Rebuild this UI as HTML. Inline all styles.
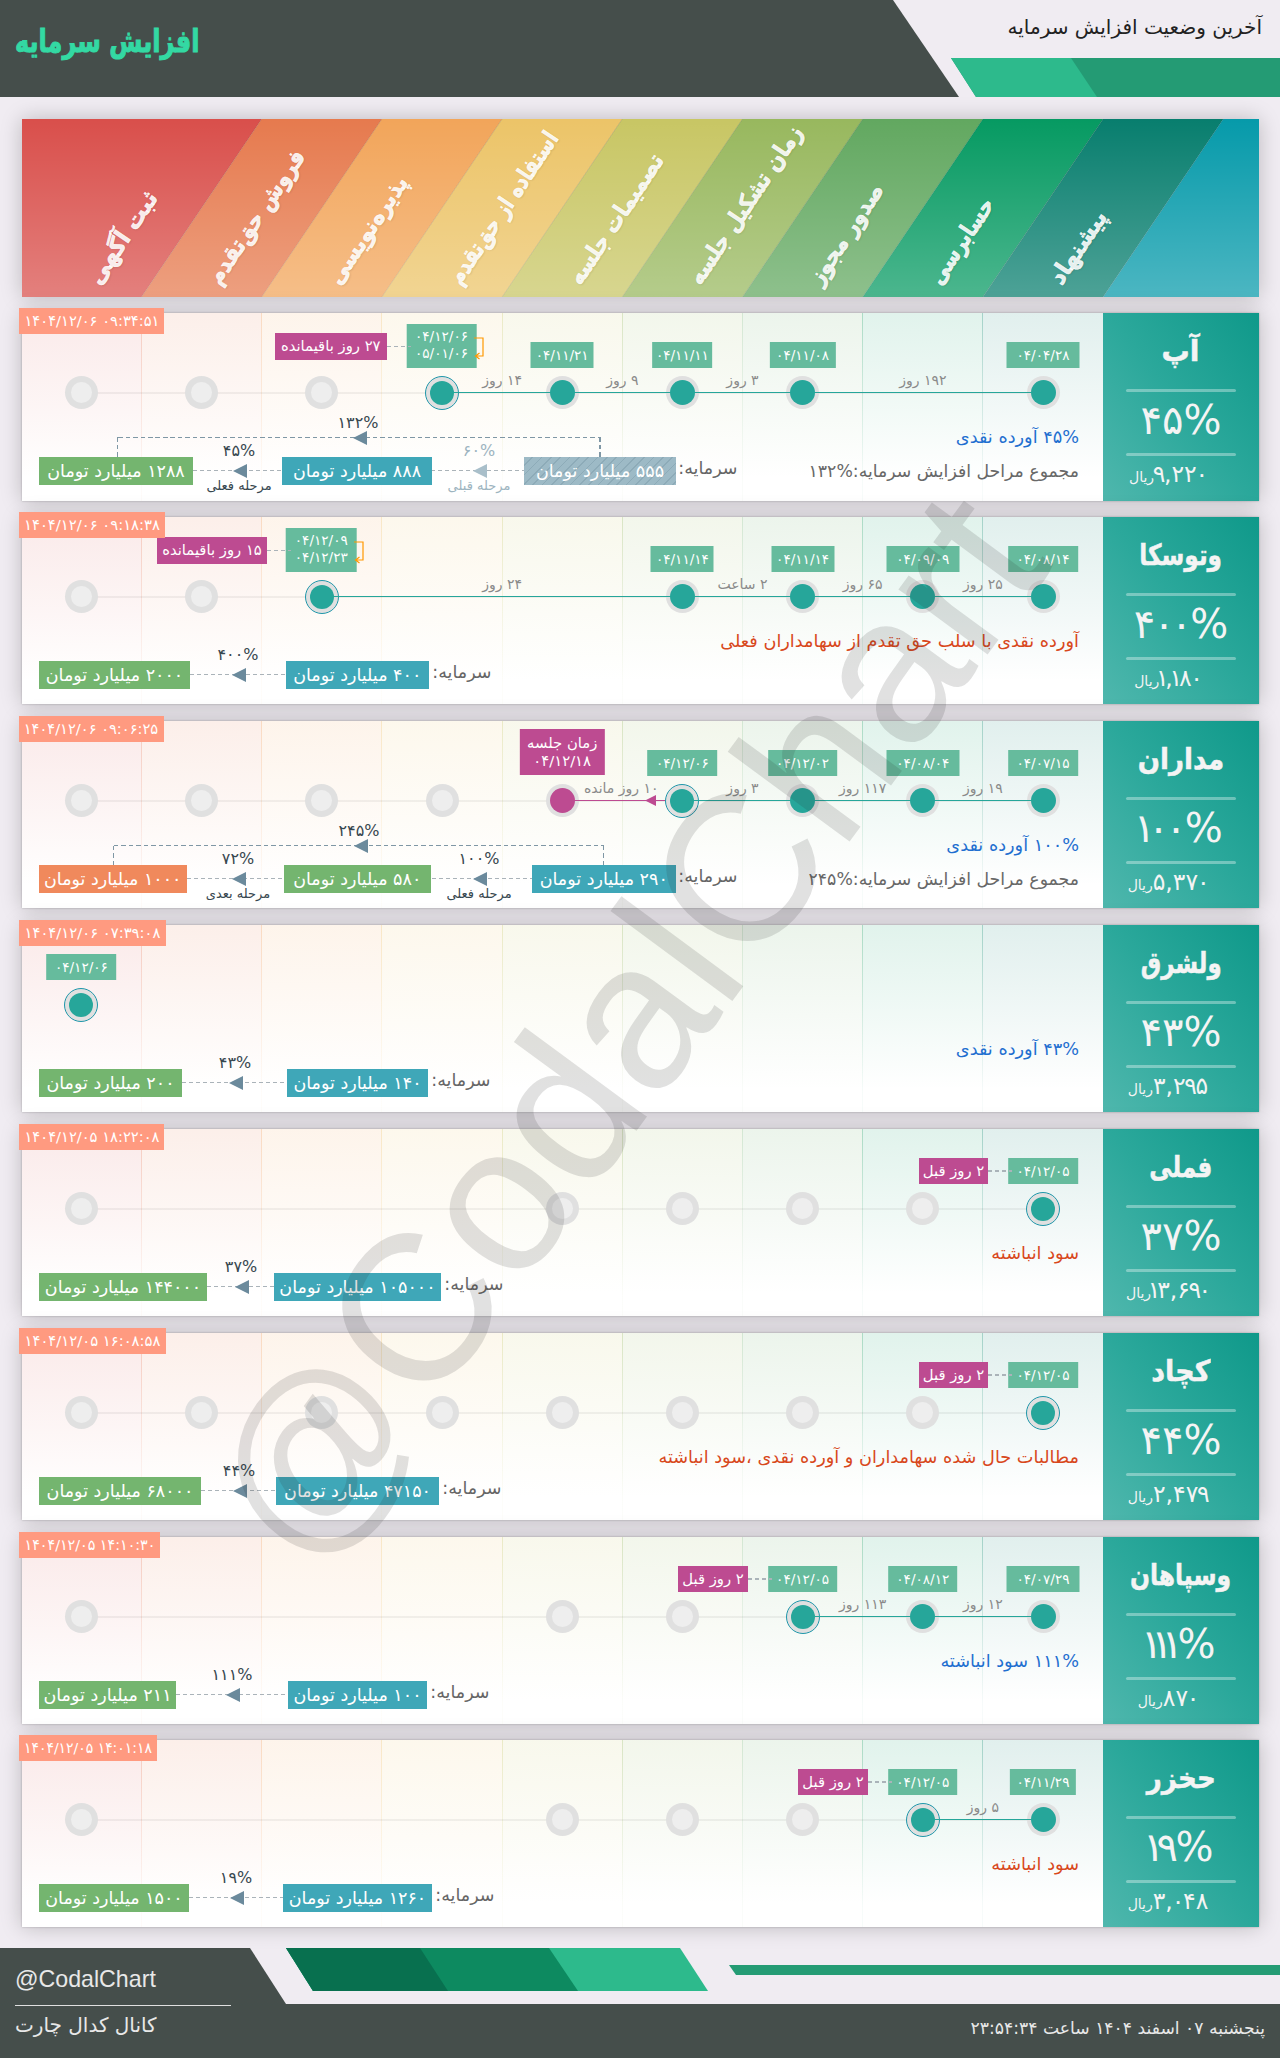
<!DOCTYPE html><html lang="fa" dir="rtl"><head><meta charset="utf-8"><title>افزایش سرمایه</title><style>
*{box-sizing:border-box;margin:0;padding:0}
html,body{width:1280px;height:2058px;overflow:hidden}
body{position:relative;background:#f0ecf2;font-family:"DejaVu Sans","Liberation Sans",sans-serif;direction:rtl;color:#555}
.abs{position:absolute}
svg{position:absolute;left:0;top:0;overflow:visible}
.title{position:absolute;left:15px;top:18px;height:50px;line-height:50px;font-size:24px;font-weight:bold;color:#33d9a3;white-space:nowrap;direction:rtl;transform-origin:0 60%;transform:scale(1,1.3);-webkit-text-stroke:.8px #33d9a3}
.sub{position:absolute;right:18px;top:12px;height:30px;line-height:30px;font-size:20px;color:#222;white-space:nowrap}
.hbox{position:absolute;left:22px;top:119px;width:1237px;height:178px;overflow:hidden;box-shadow:0 0 20px rgba(0,0,0,.22)}
.hl{position:absolute;color:rgba(255,255,255,.9);font-weight:bold;font-size:21px;white-space:nowrap;transform-origin:0 50%;line-height:30px;height:30px;text-shadow:0 1px 2px rgba(0,0,0,.12);-webkit-text-stroke:.6px rgba(255,255,255,.9);direction:rtl}
.row{position:absolute;left:22px;width:1237px;height:187.5px;background:#fff;box-shadow:0 0 20px rgba(0,0,0,.22),0 0 2px rgba(0,0,0,.25)}
.col{position:absolute;top:0;height:100%}
.cb{position:absolute;top:0;width:1px;height:100%}
.panel{position:absolute;left:1081px;top:0;width:156px;height:100%;background:linear-gradient(52deg,#4fb7ad 0%,#2ba89b 50%,#0f998a 100%);color:#f4f4f4;text-align:center}
.pn{position:absolute;left:0;width:100%;top:15px;height:46px;line-height:46px;font-size:29px;font-weight:bold;white-space:nowrap;-webkit-text-stroke:.5px #f4f4f4}
.ps{position:absolute;left:23px;width:110px;height:3px;border-radius:2px;background:rgba(255,255,255,.35)}
.pp{position:absolute;left:0;width:100%;top:83px;height:48px;line-height:48px;font-size:40px;white-space:nowrap;direction:rtl}
.pr{position:absolute;left:-13px;width:100%;top:147px;height:28px;line-height:28px;font-size:23.5px;white-space:nowrap;direction:rtl}
.pr small{font-size:14px}
.n1{margin:0 -.14em}.n0{margin:0 -.05em}.n9{margin:0 -.06em}
.sx{display:inline-block;transform-origin:50% 50%}
.ts{position:absolute;left:-3px;top:-5px;height:26px;line-height:26px;padding:0;text-align:center;background:#ff9a80;color:#fff;font-size:14.8px;white-space:nowrap;direction:ltr}
.ring{position:absolute;width:33px;height:33px;border-radius:50%;background:#e0e0e0;margin:-16.5px 0 0 -16.5px}
.in{position:absolute;width:21px;height:21px;border-radius:50%;background:#eee;margin:-10.5px 0 0 -10.5px}
.dot{position:absolute;width:25px;height:25px;border-radius:50%;background:#26a69a;margin:-12.5px 0 0 -12.5px}
.dotm{position:absolute;width:25px;height:25px;border-radius:50%;background:#bd4b91;margin:-12.5px 0 0 -12.5px}
.cur{position:absolute;width:34px;height:34px;border-radius:50%;border:1.8px solid #1f97aa;background:#e0e0e0;margin:-17px 0 0 -17px}
.ln{position:absolute;height:1.6px;background:#26a69a;margin-top:-.8px}
.lg{position:absolute;height:2px;background:rgba(0,0,0,.05);margin-top:-1px}
.lm{position:absolute;height:1.6px;background:#bd4b91;margin-top:-.8px}
.db{position:absolute;transform:translateX(-50%);background:#66bb9d;color:#fff;font-size:13.6px;padding:0;white-space:nowrap;text-align:center;direction:ltr}
.db1{top:29px;height:26px;line-height:26px}
.db2{top:11px;height:44px;line-height:17px;padding-top:4px}
.mg{position:absolute;background:#bd4b91;color:#fff;font-size:14.8px;padding:0 7px;white-space:nowrap;text-align:center;direction:rtl}
.iv{position:absolute;transform:translateX(-50%);top:57px;height:20px;line-height:20px;font-size:14px;color:#8a8a8a;white-space:nowrap;direction:rtl}
.dash{position:absolute;height:1.5px;margin-top:-.75px;background:repeating-linear-gradient(90deg,#aab3b9 0,#aab3b9 4px,transparent 4px,transparent 7px)}
.vd{position:absolute;width:1.3px;margin-left:-.65px;background:repeating-linear-gradient(0deg,#7f97a5 0,#7f97a5 4.5px,transparent 4.5px,transparent 7.5px)}
.t1{position:absolute;right:180px;top:112px;height:24px;line-height:24px;font-size:17.7px;white-space:nowrap;direction:rtl}
.t2{position:absolute;right:180px;top:146px;height:24px;line-height:24px;font-size:17.3px;white-space:nowrap;color:#686868;direction:rtl}
.blue{color:#1f6fd0}.red{color:#d8481c}
.cap{position:absolute;top:143.5px;height:28px;line-height:28px;color:#fff;font-size:17.5px;white-space:nowrap;text-align:center;direction:rtl}
.cl{position:absolute;top:141px;height:28px;line-height:28px;color:#666;font-size:17.5px;white-space:nowrap;direction:rtl}
.g{background:#74b56f}.t{background:#3fa7b8}.o{background:#f0895c}
.h{background:repeating-linear-gradient(135deg,#9dbac6 0,#9dbac6 5.6px,#8dabb8 5.6px,#8dabb8 6.6px)}
.pc{position:absolute;transform:translateX(-50%);height:20px;line-height:20px;font-size:16px;color:#37474f;white-space:nowrap;direction:rtl}
.sl{position:absolute;transform:translateX(-50%);height:18px;line-height:18px;font-size:13px;color:#37474f;white-space:nowrap;direction:rtl}
.lt{color:#9db4c0}
.wm{position:absolute;left:623px;top:1027px;width:0;height:0}
.wm>span{position:absolute;left:0;top:0;transform:translate(-50%,-50%) rotate(-53.6deg);font-family:"Liberation Sans",sans-serif;font-size:209px;line-height:1;color:rgba(40,40,40,.14);white-space:nowrap;direction:ltr}
.f1{position:absolute;left:15px;top:1964px;height:30px;line-height:30px;font-size:23.2px;color:#e8e8e8;font-family:"Liberation Sans",sans-serif;direction:ltr;white-space:nowrap}
.f2{position:absolute;left:15px;top:2011px;height:28px;line-height:28px;font-size:20px;color:#e8e8e8;white-space:nowrap;direction:rtl}
.f3{position:absolute;right:15px;top:2014px;height:28px;line-height:28px;font-size:17.2px;color:#e8e8e8;white-space:nowrap;direction:rtl}
.fl{position:absolute;left:15px;top:2005px;width:216px;height:1px;background:#e0e0e0}
</style></head><body>
<svg width="1280" height="2058" viewBox="0 0 1280 2058"><polygon points="0,0 893,0 959,97 0,97" fill="#454e4b"/><polygon points="951,58 1280,58 1280,97 976,97" fill="#249b74"/><polygon points="951,58 1071,58 1097,97 976,97" fill="#2dba8c"/><rect x="0" y="2004" width="1280" height="54" fill="#454e4b"/><polygon points="0,1948 250,1948 286,2004 0,2004" fill="#454e4b"/><polygon points="286,1948 680,1948 708,1991 313,1991" fill="#2dba8c"/><polygon points="286,1948 549,1948 578,1991 313,1991" fill="#0d8a60"/><polygon points="286,1948 420,1948 448,1991 313,1991" fill="#08704f"/><polygon points="729,1965 1280,1965 1280,1975 736,1975" fill="#249b74"/></svg>
<div class="title">افزایش سرمایه</div>
<div class="sub">آخرین وضعیت افزایش سرمایه</div>
<div class="hbox"><svg width="1237" height="178" viewBox="0 0 1237 178"><defs><linearGradient id="wg" x1="0" y1="0" x2="0" y2="1"><stop offset="0" stop-color="#fff" stop-opacity="0"/><stop offset="1" stop-color="#fff" stop-opacity=".28"/></linearGradient></defs><polygon points="0,0 239.7,0 119.5,178.0 0,178.0" fill="#d94f4b"/><polygon points="239.7,0 359.9,0 239.7,178.0 119.5,178.0" fill="#e67a4e"/><polygon points="359.9,0 480.1,0 359.9,178.0 239.7,178.0" fill="#f2a55a"/><polygon points="480.1,0 600.3,0 480.1,178.0 359.9,178.0" fill="#ecc468"/><polygon points="600.3,0 720.5,0 600.3,178.0 480.1,178.0" fill="#c8c664"/><polygon points="720.5,0 840.7,0 720.5,178.0 600.3,178.0" fill="#98b85e"/><polygon points="840.7,0 960.9,0 840.7,178.0 720.5,178.0" fill="#62a860"/><polygon points="960.9,0 1081.1,0 960.9,178.0 840.7,178.0" fill="#069a62"/><polygon points="1081.1,0 1201.3,0 1081.1,178.0 960.9,178.0" fill="#087e6e"/><polygon points="1201.3,0 1237.0,0 1237.0,178.0 1081.1,178.0" fill="#069aaa"/><line x1="239.7" y1="0" x2="119.5" y2="178.0" stroke="rgba(0,0,0,.12)" stroke-width="1"/><line x1="359.9" y1="0" x2="239.7" y2="178.0" stroke="rgba(0,0,0,.12)" stroke-width="1"/><line x1="480.1" y1="0" x2="359.9" y2="178.0" stroke="rgba(0,0,0,.12)" stroke-width="1"/><line x1="600.3" y1="0" x2="480.1" y2="178.0" stroke="rgba(0,0,0,.12)" stroke-width="1"/><line x1="720.5" y1="0" x2="600.3" y2="178.0" stroke="rgba(0,0,0,.12)" stroke-width="1"/><line x1="840.7" y1="0" x2="720.5" y2="178.0" stroke="rgba(0,0,0,.12)" stroke-width="1"/><line x1="960.9" y1="0" x2="840.7" y2="178.0" stroke="rgba(0,0,0,.12)" stroke-width="1"/><line x1="1081.1" y1="0" x2="960.9" y2="178.0" stroke="rgba(0,0,0,.12)" stroke-width="1"/><line x1="1201.3" y1="0" x2="1081.1" y2="178.0" stroke="rgba(0,0,0,.12)" stroke-width="1"/><rect x="0" y="0" width="1237.0" height="178.0" fill="url(#wg)"/></svg><div class="hl" style="left:71.0px;top:148.0px;transform:rotate(-56.3deg) scale(1.06,1.12)">ثبت آگهی</div><div class="hl" style="left:191.2px;top:148.0px;transform:rotate(-56.3deg) scale(0.97,1.12)">فروش حق‌تقدم</div><div class="hl" style="left:311.4px;top:148.0px;transform:rotate(-56.3deg) scale(1.0,1.12)">پذیره‌نویسی</div><div class="hl" style="left:431.6px;top:148.0px;transform:rotate(-56.3deg) scale(0.885,1.12)">استفاده از حق‌تقدم</div><div class="hl" style="left:551.8px;top:148.0px;transform:rotate(-56.3deg) scale(0.95,1.12)">تصمیمات جلسه</div><div class="hl" style="left:672.0px;top:148.0px;transform:rotate(-56.3deg) scale(0.965,1.12)">زمان تشکیل جلسه</div><div class="hl" style="left:792.2px;top:148.0px;transform:rotate(-56.3deg) scale(0.98,1.12)">صدور مجوز</div><div class="hl" style="left:912.4px;top:148.0px;transform:rotate(-56.3deg) scale(0.92,1.12)">حسابرسی</div><div class="hl" style="left:1032.6px;top:148.0px;transform:rotate(-56.3deg) scale(1.06,1.12)">پیشنهاد</div></div>
<div class="row" style="top:313px;height:188px"><div class="col" style="left:0.0px;width:119.5px;background:linear-gradient(to bottom,rgba(217,79,75,.12) 0%,rgba(217,79,75,.055) 50%,rgba(217,79,75,0) 88%)"></div><div class="col" style="left:119.5px;width:120.2px;background:linear-gradient(to bottom,rgba(230,122,78,.12) 0%,rgba(230,122,78,.055) 50%,rgba(230,122,78,0) 88%)"></div><div class="col" style="left:239.7px;width:120.2px;background:linear-gradient(to bottom,rgba(242,165,90,.12) 0%,rgba(242,165,90,.055) 50%,rgba(242,165,90,0) 88%)"></div><div class="col" style="left:359.9px;width:120.2px;background:linear-gradient(to bottom,rgba(236,196,104,.12) 0%,rgba(236,196,104,.055) 50%,rgba(236,196,104,0) 88%)"></div><div class="col" style="left:480.1px;width:120.2px;background:linear-gradient(to bottom,rgba(200,198,100,.12) 0%,rgba(200,198,100,.055) 50%,rgba(200,198,100,0) 88%)"></div><div class="col" style="left:600.3px;width:120.2px;background:linear-gradient(to bottom,rgba(152,184,94,.12) 0%,rgba(152,184,94,.055) 50%,rgba(152,184,94,0) 88%)"></div><div class="col" style="left:720.5px;width:120.2px;background:linear-gradient(to bottom,rgba(98,168,96,.12) 0%,rgba(98,168,96,.055) 50%,rgba(98,168,96,0) 88%)"></div><div class="col" style="left:840.7px;width:120.2px;background:linear-gradient(to bottom,rgba(6,154,98,.12) 0%,rgba(6,154,98,.055) 50%,rgba(6,154,98,0) 88%)"></div><div class="col" style="left:960.9px;width:120.2px;background:linear-gradient(to bottom,rgba(8,126,110,.12) 0%,rgba(8,126,110,.055) 50%,rgba(8,126,110,0) 88%)"></div><div class="cb" style="left:119.0px;background:linear-gradient(to bottom,rgba(230,122,78,.28) 0%,rgba(230,122,78,.03) 90%)"></div><div class="cb" style="left:239.2px;background:linear-gradient(to bottom,rgba(242,165,90,.28) 0%,rgba(242,165,90,.03) 90%)"></div><div class="cb" style="left:359.4px;background:linear-gradient(to bottom,rgba(236,196,104,.28) 0%,rgba(236,196,104,.03) 90%)"></div><div class="cb" style="left:479.6px;background:linear-gradient(to bottom,rgba(200,198,100,.28) 0%,rgba(200,198,100,.03) 90%)"></div><div class="cb" style="left:599.8px;background:linear-gradient(to bottom,rgba(152,184,94,.28) 0%,rgba(152,184,94,.03) 90%)"></div><div class="cb" style="left:720.0px;background:linear-gradient(to bottom,rgba(98,168,96,.28) 0%,rgba(98,168,96,.03) 90%)"></div><div class="cb" style="left:840.2px;background:linear-gradient(to bottom,rgba(6,154,98,.28) 0%,rgba(6,154,98,.03) 90%)"></div><div class="cb" style="left:960.4px;background:linear-gradient(to bottom,rgba(8,126,110,.28) 0%,rgba(8,126,110,.03) 90%)"></div><div class="cb" style="left:1080.6px;background:linear-gradient(to bottom,rgba(8,126,110,.28) 0%,rgba(8,126,110,.03) 90%)"></div><div class="lg" style="left:59.4px;width:961.6px;top:79.5px"></div><div class="ring" style="left:299.8px;top:79.5px"></div><div class="in" style="left:299.8px;top:79.5px"></div><div class="ring" style="left:179.6px;top:79.5px"></div><div class="in" style="left:179.6px;top:79.5px"></div><div class="ring" style="left:59.4px;top:79.5px"></div><div class="in" style="left:59.4px;top:79.5px"></div><div class="ring" style="left:1021.0px;top:79.5px"></div><div class="ring" style="left:780.6px;top:79.5px"></div><div class="ring" style="left:660.4px;top:79.5px"></div><div class="ring" style="left:540.2px;top:79.5px"></div><div class="cur" style="left:420.0px;top:79.5px"></div><div class="ln" style="left:420.0px;width:601.0px;top:79.5px"></div><div class="dot" style="left:1021.0px;top:79.5px"></div><div class="db db1" style="left:1021.0px;width:73.0px">۰۴/۰۴/۲۸</div><div class="dot" style="left:780.6px;top:79.5px"></div><div class="db db1" style="left:780.6px;width:66.3px">۰۴/۱۱/۰۸</div><div class="dot" style="left:660.4px;top:79.5px"></div><div class="db db1" style="left:660.4px;width:59.7px">۰۴/۱۱/۱۱</div><div class="dot" style="left:540.2px;top:79.5px"></div><div class="db db1" style="left:540.2px;width:63.0px">۰۴/۱۱/۲۱</div><div class="dot" style="left:420.0px;top:79.5px;width:24px;height:24px;margin:-12px 0 0 -12px"></div><div class="db db2" style="left:419.5px;width:70.6px">۰۴/۱۲/۰۶<br>۰۵/۰۱/۰۶</div><svg class="abs" style="left:451.0px;top:18.5px" width="14" height="28" viewBox="0 0 14 28"><path d="M1,6 H10 V24 H3 M6.5,21 L2.5,24 L6.5,27" fill="none" stroke="#ff9800" stroke-width="1.2"/></svg><div class="iv" style="left:900.8px">۱۹۲ روز</div><div class="iv" style="left:720.5px">۳ روز</div><div class="iv" style="left:600.3px">۹ روز</div><div class="iv" style="left:480.1px">۱۴ روز</div><div class="mg" style="left:253.0px;width:111.5px;top:20.2px;height:26.4px;line-height:26.4px;padding:0">۲۷ روز باقیمانده</div><div class="dash" style="left:364.5px;width:24px;top:33.4px"></div><div class="t1 blue">۴۵% آورده نقدی</div><div class="t2">مجموع مراحل افزایش سرمایه:%۱۳۲</div><div class="dash" style="left:171.0px;width:331.0px;top:157.5px"></div><div class="dash" style="left:95.5px;width:482.5px;top:124.8px;height:1.3px;background:repeating-linear-gradient(90deg,#7f97a5 0,#7f97a5 4.5px,transparent 4.5px,transparent 7.5px)"></div><div class="vd" style="left:95.5px;top:124px;height:19.5px"></div><div class="vd" style="left:578.0px;top:124px;height:19.5px"></div><svg class="abs" style="left:331.0px;top:117.7px" width="14" height="14" viewBox="0 0 14 14"><polygon points="0,7 14,0 14,14" fill="#6b8a9c"/></svg><div class="pc" style="left:336.0px;top:100px">۱۳۲%</div><div class="cap g" style="left:17.0px;width:154.0px">۱۲۸۸ میلیارد تومان</div><div class="cap t" style="left:260.0px;width:150.0px">۸۸۸ میلیارد تومان</div><div class="cap h" style="left:502.0px;width:152.0px">۵۵۵ میلیارد تومان</div><svg class="abs" style="left:211.0px;top:150.5px" width="14" height="14" viewBox="0 0 14 14"><polygon points="0,7 14,0 14,14" fill="#6b8a9c"/></svg><div class="pc" style="left:217.0px;top:128px">۴۵%</div><div class="sl" style="left:217.0px;top:164px">مرحله فعلی</div><svg class="abs" style="left:451.0px;top:150.5px" width="14" height="14" viewBox="0 0 14 14"><polygon points="0,7 14,0 14,14" fill="#a9bfca"/></svg><div class="pc lt" style="left:457.0px;top:128px">۶۰%</div><div class="sl lt" style="left:457.0px;top:164px">مرحله قبلی</div><div class="cl" style="right:521.5px">سرمایه:</div><div class="ts" style="width:145px"><span class="sx" style="transform:scaleX(0.993)">۱۴۰۴/۱۲/۰۶ ۰۹:۳۴:۵۱</span></div><div class="panel"><div class="pn"><span class="sx" style="transform:scaleX(0.97)">آپ</span></div><div class="ps" style="top:76px"></div><div class="pp">۴۵%</div><div class="ps" style="top:140px"></div><div class="pr"><span class="n9">۹</span>,۲۲<span class="n0">۰</span><small>ریال</small></div></div></div>
<div class="row" style="top:517px;height:187px"><div class="col" style="left:0.0px;width:119.5px;background:linear-gradient(to bottom,rgba(217,79,75,.12) 0%,rgba(217,79,75,.055) 50%,rgba(217,79,75,0) 88%)"></div><div class="col" style="left:119.5px;width:120.2px;background:linear-gradient(to bottom,rgba(230,122,78,.12) 0%,rgba(230,122,78,.055) 50%,rgba(230,122,78,0) 88%)"></div><div class="col" style="left:239.7px;width:120.2px;background:linear-gradient(to bottom,rgba(242,165,90,.12) 0%,rgba(242,165,90,.055) 50%,rgba(242,165,90,0) 88%)"></div><div class="col" style="left:359.9px;width:120.2px;background:linear-gradient(to bottom,rgba(236,196,104,.12) 0%,rgba(236,196,104,.055) 50%,rgba(236,196,104,0) 88%)"></div><div class="col" style="left:480.1px;width:120.2px;background:linear-gradient(to bottom,rgba(200,198,100,.12) 0%,rgba(200,198,100,.055) 50%,rgba(200,198,100,0) 88%)"></div><div class="col" style="left:600.3px;width:120.2px;background:linear-gradient(to bottom,rgba(152,184,94,.12) 0%,rgba(152,184,94,.055) 50%,rgba(152,184,94,0) 88%)"></div><div class="col" style="left:720.5px;width:120.2px;background:linear-gradient(to bottom,rgba(98,168,96,.12) 0%,rgba(98,168,96,.055) 50%,rgba(98,168,96,0) 88%)"></div><div class="col" style="left:840.7px;width:120.2px;background:linear-gradient(to bottom,rgba(6,154,98,.12) 0%,rgba(6,154,98,.055) 50%,rgba(6,154,98,0) 88%)"></div><div class="col" style="left:960.9px;width:120.2px;background:linear-gradient(to bottom,rgba(8,126,110,.12) 0%,rgba(8,126,110,.055) 50%,rgba(8,126,110,0) 88%)"></div><div class="cb" style="left:119.0px;background:linear-gradient(to bottom,rgba(230,122,78,.28) 0%,rgba(230,122,78,.03) 90%)"></div><div class="cb" style="left:239.2px;background:linear-gradient(to bottom,rgba(242,165,90,.28) 0%,rgba(242,165,90,.03) 90%)"></div><div class="cb" style="left:359.4px;background:linear-gradient(to bottom,rgba(236,196,104,.28) 0%,rgba(236,196,104,.03) 90%)"></div><div class="cb" style="left:479.6px;background:linear-gradient(to bottom,rgba(200,198,100,.28) 0%,rgba(200,198,100,.03) 90%)"></div><div class="cb" style="left:599.8px;background:linear-gradient(to bottom,rgba(152,184,94,.28) 0%,rgba(152,184,94,.03) 90%)"></div><div class="cb" style="left:720.0px;background:linear-gradient(to bottom,rgba(98,168,96,.28) 0%,rgba(98,168,96,.03) 90%)"></div><div class="cb" style="left:840.2px;background:linear-gradient(to bottom,rgba(6,154,98,.28) 0%,rgba(6,154,98,.03) 90%)"></div><div class="cb" style="left:960.4px;background:linear-gradient(to bottom,rgba(8,126,110,.28) 0%,rgba(8,126,110,.03) 90%)"></div><div class="cb" style="left:1080.6px;background:linear-gradient(to bottom,rgba(8,126,110,.28) 0%,rgba(8,126,110,.03) 90%)"></div><div class="lg" style="left:59.4px;width:961.6px;top:79.5px"></div><div class="ring" style="left:179.6px;top:79.5px"></div><div class="in" style="left:179.6px;top:79.5px"></div><div class="ring" style="left:59.4px;top:79.5px"></div><div class="in" style="left:59.4px;top:79.5px"></div><div class="ring" style="left:1021.0px;top:79.5px"></div><div class="ring" style="left:900.8px;top:79.5px"></div><div class="ring" style="left:780.6px;top:79.5px"></div><div class="ring" style="left:660.4px;top:79.5px"></div><div class="cur" style="left:299.8px;top:79.5px"></div><div class="ln" style="left:299.8px;width:721.2px;top:79.5px"></div><div class="dot" style="left:1021.0px;top:79.5px"></div><div class="db db1" style="left:1021.0px;width:69.6px">۰۴/۰۸/۱۴</div><div class="dot" style="left:900.8px;top:79.5px"></div><div class="db db1" style="left:900.8px;width:73.0px">۰۴/۰۹/۰۹</div><div class="dot" style="left:780.6px;top:79.5px"></div><div class="db db1" style="left:780.6px;width:63.0px">۰۴/۱۱/۱۴</div><div class="dot" style="left:660.4px;top:79.5px"></div><div class="db db1" style="left:660.4px;width:63.0px">۰۴/۱۱/۱۴</div><div class="dot" style="left:299.8px;top:79.5px;width:24px;height:24px;margin:-12px 0 0 -12px"></div><div class="db db2" style="left:299.3px;width:70.6px">۰۴/۱۲/۰۹<br>۰۴/۱۲/۲۳</div><svg class="abs" style="left:330.8px;top:18.5px" width="14" height="28" viewBox="0 0 14 28"><path d="M1,6 H10 V24 H3 M6.5,21 L2.5,24 L6.5,27" fill="none" stroke="#ff9800" stroke-width="1.2"/></svg><div class="iv" style="left:960.9px">۲۵ روز</div><div class="iv" style="left:840.7px">۶۵ روز</div><div class="iv" style="left:720.5px">۲ ساعت</div><div class="iv" style="left:480.1px">۲۴ روز</div><div class="mg" style="left:135.0px;width:110.0px;top:20.2px;height:26.4px;line-height:26.4px;padding:0">۱۵ روز باقیمانده</div><div class="dash" style="left:245.0px;width:24px;top:33.4px"></div><div class="t1 red">آورده نقدی با سلب حق تقدم از سهامداران فعلی</div><div class="dash" style="left:168.0px;width:96.0px;top:157.5px"></div><div class="cap g" style="left:17.0px;width:151.0px">۲۰۰۰ میلیارد تومان</div><div class="cap t" style="left:264.0px;width:142.5px">۴۰۰ میلیارد تومان</div><svg class="abs" style="left:210.0px;top:150.5px" width="14" height="14" viewBox="0 0 14 14"><polygon points="0,7 14,0 14,14" fill="#6b8a9c"/></svg><div class="pc" style="left:216.0px;top:128px">۴۰۰%</div><div class="cl" style="right:767.5px">سرمایه:</div><div class="ts" style="width:146px"><span class="sx" style="transform:scaleX(1.000)">۱۴۰۴/۱۲/۰۶ ۰۹:۱۸:۳۸</span></div><div class="panel"><div class="pn"><span class="sx" style="transform:scaleX(0.8)">وتوسکا</span></div><div class="ps" style="top:76px"></div><div class="pp">۴<span class="n0">۰</span><span class="n0">۰</span>%</div><div class="ps" style="top:140px"></div><div class="pr"><span class="n1">۱</span>,<span class="n1">۱</span>۸<span class="n0">۰</span><small>ریال</small></div></div></div>
<div class="row" style="top:721px;height:187px"><div class="col" style="left:0.0px;width:119.5px;background:linear-gradient(to bottom,rgba(217,79,75,.12) 0%,rgba(217,79,75,.055) 50%,rgba(217,79,75,0) 88%)"></div><div class="col" style="left:119.5px;width:120.2px;background:linear-gradient(to bottom,rgba(230,122,78,.12) 0%,rgba(230,122,78,.055) 50%,rgba(230,122,78,0) 88%)"></div><div class="col" style="left:239.7px;width:120.2px;background:linear-gradient(to bottom,rgba(242,165,90,.12) 0%,rgba(242,165,90,.055) 50%,rgba(242,165,90,0) 88%)"></div><div class="col" style="left:359.9px;width:120.2px;background:linear-gradient(to bottom,rgba(236,196,104,.12) 0%,rgba(236,196,104,.055) 50%,rgba(236,196,104,0) 88%)"></div><div class="col" style="left:480.1px;width:120.2px;background:linear-gradient(to bottom,rgba(200,198,100,.12) 0%,rgba(200,198,100,.055) 50%,rgba(200,198,100,0) 88%)"></div><div class="col" style="left:600.3px;width:120.2px;background:linear-gradient(to bottom,rgba(152,184,94,.12) 0%,rgba(152,184,94,.055) 50%,rgba(152,184,94,0) 88%)"></div><div class="col" style="left:720.5px;width:120.2px;background:linear-gradient(to bottom,rgba(98,168,96,.12) 0%,rgba(98,168,96,.055) 50%,rgba(98,168,96,0) 88%)"></div><div class="col" style="left:840.7px;width:120.2px;background:linear-gradient(to bottom,rgba(6,154,98,.12) 0%,rgba(6,154,98,.055) 50%,rgba(6,154,98,0) 88%)"></div><div class="col" style="left:960.9px;width:120.2px;background:linear-gradient(to bottom,rgba(8,126,110,.12) 0%,rgba(8,126,110,.055) 50%,rgba(8,126,110,0) 88%)"></div><div class="cb" style="left:119.0px;background:linear-gradient(to bottom,rgba(230,122,78,.28) 0%,rgba(230,122,78,.03) 90%)"></div><div class="cb" style="left:239.2px;background:linear-gradient(to bottom,rgba(242,165,90,.28) 0%,rgba(242,165,90,.03) 90%)"></div><div class="cb" style="left:359.4px;background:linear-gradient(to bottom,rgba(236,196,104,.28) 0%,rgba(236,196,104,.03) 90%)"></div><div class="cb" style="left:479.6px;background:linear-gradient(to bottom,rgba(200,198,100,.28) 0%,rgba(200,198,100,.03) 90%)"></div><div class="cb" style="left:599.8px;background:linear-gradient(to bottom,rgba(152,184,94,.28) 0%,rgba(152,184,94,.03) 90%)"></div><div class="cb" style="left:720.0px;background:linear-gradient(to bottom,rgba(98,168,96,.28) 0%,rgba(98,168,96,.03) 90%)"></div><div class="cb" style="left:840.2px;background:linear-gradient(to bottom,rgba(6,154,98,.28) 0%,rgba(6,154,98,.03) 90%)"></div><div class="cb" style="left:960.4px;background:linear-gradient(to bottom,rgba(8,126,110,.28) 0%,rgba(8,126,110,.03) 90%)"></div><div class="cb" style="left:1080.6px;background:linear-gradient(to bottom,rgba(8,126,110,.28) 0%,rgba(8,126,110,.03) 90%)"></div><div class="lg" style="left:59.4px;width:961.6px;top:79.5px"></div><div class="ring" style="left:420.0px;top:79.5px"></div><div class="in" style="left:420.0px;top:79.5px"></div><div class="ring" style="left:299.8px;top:79.5px"></div><div class="in" style="left:299.8px;top:79.5px"></div><div class="ring" style="left:179.6px;top:79.5px"></div><div class="in" style="left:179.6px;top:79.5px"></div><div class="ring" style="left:59.4px;top:79.5px"></div><div class="in" style="left:59.4px;top:79.5px"></div><div class="ring" style="left:1021.0px;top:79.5px"></div><div class="ring" style="left:900.8px;top:79.5px"></div><div class="ring" style="left:780.6px;top:79.5px"></div><div class="cur" style="left:660.4px;top:79.5px"></div><div class="ring" style="left:540.2px;top:79.5px"></div><div class="ln" style="left:660.4px;width:360.6px;top:79.5px"></div><div class="lm" style="left:540.2px;width:103.2px;top:79.5px"></div><svg class="abs" style="left:623.4px;top:74.0px" width="11" height="11" viewBox="0 0 14 14"><polygon points="0,7 14,0 14,14" fill="#bd4b91"/></svg><div class="dotm" style="left:540.2px;top:79.5px"></div><div class="mg" style="left:540.2px;transform:translateX(-50%);top:8px;height:46px;line-height:18px;padding-top:5px">زمان جلسه<br><span dir="ltr">۰۴/۱۲/۱۸</span></div><div class="iv" style="left:599.3px">۱۰ روز مانده</div><div class="dot" style="left:1021.0px;top:79.5px"></div><div class="db db1" style="left:1021.0px;width:69.6px">۰۴/۰۷/۱۵</div><div class="dot" style="left:900.8px;top:79.5px"></div><div class="db db1" style="left:900.8px;width:73.0px">۰۴/۰۸/۰۴</div><div class="dot" style="left:780.6px;top:79.5px"></div><div class="db db1" style="left:780.6px;width:69.6px">۰۴/۱۲/۰۲</div><div class="dot" style="left:660.4px;top:79.5px;width:24px;height:24px;margin:-12px 0 0 -12px"></div><div class="db db1" style="left:660.4px;width:69.6px">۰۴/۱۲/۰۶</div><div class="iv" style="left:960.9px">۱۹ روز</div><div class="iv" style="left:840.7px">۱۱۷ روز</div><div class="iv" style="left:720.5px">۳ روز</div><div class="t1 blue">۱۰۰% آورده نقدی</div><div class="t2">مجموع مراحل افزایش سرمایه:%۲۴۵</div><div class="dash" style="left:164.5px;width:345.0px;top:157.5px"></div><div class="dash" style="left:91.5px;width:490.0px;top:124.8px;height:1.3px;background:repeating-linear-gradient(90deg,#7f97a5 0,#7f97a5 4.5px,transparent 4.5px,transparent 7.5px)"></div><div class="vd" style="left:91.5px;top:124px;height:19.5px"></div><div class="vd" style="left:581.5px;top:124px;height:19.5px"></div><svg class="abs" style="left:332.0px;top:117.7px" width="14" height="14" viewBox="0 0 14 14"><polygon points="0,7 14,0 14,14" fill="#6b8a9c"/></svg><div class="pc" style="left:337.0px;top:100px">۲۴۵%</div><div class="cap o" style="left:17.0px;width:147.5px">۱۰۰۰ میلیارد تومان</div><div class="cap g" style="left:261.5px;width:147.5px">۵۸۰ میلیارد تومان</div><div class="cap t" style="left:509.5px;width:144.5px">۲۹۰ میلیارد تومان</div><svg class="abs" style="left:210.0px;top:150.5px" width="14" height="14" viewBox="0 0 14 14"><polygon points="0,7 14,0 14,14" fill="#6b8a9c"/></svg><div class="pc" style="left:216.0px;top:128px">۷۲%</div><div class="sl" style="left:216.0px;top:164px">مرحله بعدی</div><svg class="abs" style="left:451.0px;top:150.5px" width="14" height="14" viewBox="0 0 14 14"><polygon points="0,7 14,0 14,14" fill="#6b8a9c"/></svg><div class="pc" style="left:457.0px;top:128px">۱۰۰%</div><div class="sl" style="left:457.0px;top:164px">مرحله فعلی</div><div class="cl" style="right:521.5px">سرمایه:</div><div class="ts" style="width:144.5px"><span class="sx" style="transform:scaleX(0.989)">۱۴۰۴/۱۲/۰۶ ۰۹:۰۶:۲۵</span></div><div class="panel"><div class="pn"><span class="sx" style="transform:scaleX(0.9)">مداران</span></div><div class="ps" style="top:76px"></div><div class="pp"><span class="n1">۱</span><span class="n0">۰</span><span class="n0">۰</span>%</div><div class="ps" style="top:140px"></div><div class="pr">۵,۳۷<span class="n0">۰</span><small>ریال</small></div></div></div>
<div class="row" style="top:925px;height:187px"><div class="col" style="left:0.0px;width:119.5px;background:linear-gradient(to bottom,rgba(217,79,75,.12) 0%,rgba(217,79,75,.055) 50%,rgba(217,79,75,0) 88%)"></div><div class="col" style="left:119.5px;width:120.2px;background:linear-gradient(to bottom,rgba(230,122,78,.12) 0%,rgba(230,122,78,.055) 50%,rgba(230,122,78,0) 88%)"></div><div class="col" style="left:239.7px;width:120.2px;background:linear-gradient(to bottom,rgba(242,165,90,.12) 0%,rgba(242,165,90,.055) 50%,rgba(242,165,90,0) 88%)"></div><div class="col" style="left:359.9px;width:120.2px;background:linear-gradient(to bottom,rgba(236,196,104,.12) 0%,rgba(236,196,104,.055) 50%,rgba(236,196,104,0) 88%)"></div><div class="col" style="left:480.1px;width:120.2px;background:linear-gradient(to bottom,rgba(200,198,100,.12) 0%,rgba(200,198,100,.055) 50%,rgba(200,198,100,0) 88%)"></div><div class="col" style="left:600.3px;width:120.2px;background:linear-gradient(to bottom,rgba(152,184,94,.12) 0%,rgba(152,184,94,.055) 50%,rgba(152,184,94,0) 88%)"></div><div class="col" style="left:720.5px;width:120.2px;background:linear-gradient(to bottom,rgba(98,168,96,.12) 0%,rgba(98,168,96,.055) 50%,rgba(98,168,96,0) 88%)"></div><div class="col" style="left:840.7px;width:120.2px;background:linear-gradient(to bottom,rgba(6,154,98,.12) 0%,rgba(6,154,98,.055) 50%,rgba(6,154,98,0) 88%)"></div><div class="col" style="left:960.9px;width:120.2px;background:linear-gradient(to bottom,rgba(8,126,110,.12) 0%,rgba(8,126,110,.055) 50%,rgba(8,126,110,0) 88%)"></div><div class="cb" style="left:119.0px;background:linear-gradient(to bottom,rgba(230,122,78,.28) 0%,rgba(230,122,78,.03) 90%)"></div><div class="cb" style="left:239.2px;background:linear-gradient(to bottom,rgba(242,165,90,.28) 0%,rgba(242,165,90,.03) 90%)"></div><div class="cb" style="left:359.4px;background:linear-gradient(to bottom,rgba(236,196,104,.28) 0%,rgba(236,196,104,.03) 90%)"></div><div class="cb" style="left:479.6px;background:linear-gradient(to bottom,rgba(200,198,100,.28) 0%,rgba(200,198,100,.03) 90%)"></div><div class="cb" style="left:599.8px;background:linear-gradient(to bottom,rgba(152,184,94,.28) 0%,rgba(152,184,94,.03) 90%)"></div><div class="cb" style="left:720.0px;background:linear-gradient(to bottom,rgba(98,168,96,.28) 0%,rgba(98,168,96,.03) 90%)"></div><div class="cb" style="left:840.2px;background:linear-gradient(to bottom,rgba(6,154,98,.28) 0%,rgba(6,154,98,.03) 90%)"></div><div class="cb" style="left:960.4px;background:linear-gradient(to bottom,rgba(8,126,110,.28) 0%,rgba(8,126,110,.03) 90%)"></div><div class="cb" style="left:1080.6px;background:linear-gradient(to bottom,rgba(8,126,110,.28) 0%,rgba(8,126,110,.03) 90%)"></div><div class="cur" style="left:59.4px;top:79.5px"></div><div class="dot" style="left:59.4px;top:79.5px;width:24px;height:24px;margin:-12px 0 0 -12px"></div><div class="db db1" style="left:59.4px;width:69.6px">۰۴/۱۲/۰۶</div><div class="t1 blue">۴۳% آورده نقدی</div><div class="dash" style="left:160.0px;width:105.0px;top:157.5px"></div><div class="cap g" style="left:17.0px;width:143.0px">۲۰۰ میلیارد تومان</div><div class="cap t" style="left:265.0px;width:141.0px">۱۴۰ میلیارد تومان</div><svg class="abs" style="left:207.0px;top:150.5px" width="14" height="14" viewBox="0 0 14 14"><polygon points="0,7 14,0 14,14" fill="#6b8a9c"/></svg><div class="pc" style="left:213.0px;top:128px">۴۳%</div><div class="cl" style="right:768.5px">سرمایه:</div><div class="ts" style="width:147px"><span class="sx" style="transform:scaleX(1.000)">۱۴۰۴/۱۲/۰۶ ۰۷:۳۹:۰۸</span></div><div class="panel"><div class="pn"><span class="sx" style="transform:scaleX(0.79)">ولشرق</span></div><div class="ps" style="top:76px"></div><div class="pp">۴۳%</div><div class="ps" style="top:140px"></div><div class="pr">۳,۲<span class="n9">۹</span>۵<small>ریال</small></div></div></div>
<div class="row" style="top:1129px;height:187px"><div class="col" style="left:0.0px;width:119.5px;background:linear-gradient(to bottom,rgba(217,79,75,.12) 0%,rgba(217,79,75,.055) 50%,rgba(217,79,75,0) 88%)"></div><div class="col" style="left:119.5px;width:120.2px;background:linear-gradient(to bottom,rgba(230,122,78,.12) 0%,rgba(230,122,78,.055) 50%,rgba(230,122,78,0) 88%)"></div><div class="col" style="left:239.7px;width:120.2px;background:linear-gradient(to bottom,rgba(242,165,90,.12) 0%,rgba(242,165,90,.055) 50%,rgba(242,165,90,0) 88%)"></div><div class="col" style="left:359.9px;width:120.2px;background:linear-gradient(to bottom,rgba(236,196,104,.12) 0%,rgba(236,196,104,.055) 50%,rgba(236,196,104,0) 88%)"></div><div class="col" style="left:480.1px;width:120.2px;background:linear-gradient(to bottom,rgba(200,198,100,.12) 0%,rgba(200,198,100,.055) 50%,rgba(200,198,100,0) 88%)"></div><div class="col" style="left:600.3px;width:120.2px;background:linear-gradient(to bottom,rgba(152,184,94,.12) 0%,rgba(152,184,94,.055) 50%,rgba(152,184,94,0) 88%)"></div><div class="col" style="left:720.5px;width:120.2px;background:linear-gradient(to bottom,rgba(98,168,96,.12) 0%,rgba(98,168,96,.055) 50%,rgba(98,168,96,0) 88%)"></div><div class="col" style="left:840.7px;width:120.2px;background:linear-gradient(to bottom,rgba(6,154,98,.12) 0%,rgba(6,154,98,.055) 50%,rgba(6,154,98,0) 88%)"></div><div class="col" style="left:960.9px;width:120.2px;background:linear-gradient(to bottom,rgba(8,126,110,.12) 0%,rgba(8,126,110,.055) 50%,rgba(8,126,110,0) 88%)"></div><div class="cb" style="left:119.0px;background:linear-gradient(to bottom,rgba(230,122,78,.28) 0%,rgba(230,122,78,.03) 90%)"></div><div class="cb" style="left:239.2px;background:linear-gradient(to bottom,rgba(242,165,90,.28) 0%,rgba(242,165,90,.03) 90%)"></div><div class="cb" style="left:359.4px;background:linear-gradient(to bottom,rgba(236,196,104,.28) 0%,rgba(236,196,104,.03) 90%)"></div><div class="cb" style="left:479.6px;background:linear-gradient(to bottom,rgba(200,198,100,.28) 0%,rgba(200,198,100,.03) 90%)"></div><div class="cb" style="left:599.8px;background:linear-gradient(to bottom,rgba(152,184,94,.28) 0%,rgba(152,184,94,.03) 90%)"></div><div class="cb" style="left:720.0px;background:linear-gradient(to bottom,rgba(98,168,96,.28) 0%,rgba(98,168,96,.03) 90%)"></div><div class="cb" style="left:840.2px;background:linear-gradient(to bottom,rgba(6,154,98,.28) 0%,rgba(6,154,98,.03) 90%)"></div><div class="cb" style="left:960.4px;background:linear-gradient(to bottom,rgba(8,126,110,.28) 0%,rgba(8,126,110,.03) 90%)"></div><div class="cb" style="left:1080.6px;background:linear-gradient(to bottom,rgba(8,126,110,.28) 0%,rgba(8,126,110,.03) 90%)"></div><div class="lg" style="left:59.4px;width:961.6px;top:79.5px"></div><div class="ring" style="left:900.8px;top:79.5px"></div><div class="in" style="left:900.8px;top:79.5px"></div><div class="ring" style="left:780.6px;top:79.5px"></div><div class="in" style="left:780.6px;top:79.5px"></div><div class="ring" style="left:660.4px;top:79.5px"></div><div class="in" style="left:660.4px;top:79.5px"></div><div class="ring" style="left:540.2px;top:79.5px"></div><div class="in" style="left:540.2px;top:79.5px"></div><div class="ring" style="left:59.4px;top:79.5px"></div><div class="in" style="left:59.4px;top:79.5px"></div><div class="cur" style="left:1021.0px;top:79.5px"></div><div class="dot" style="left:1021.0px;top:79.5px;width:24px;height:24px;margin:-12px 0 0 -12px"></div><div class="db db1" style="left:1021.0px;width:69.6px">۰۴/۱۲/۰۵</div><div class="mg" style="left:897.0px;width:69.0px;top:28.8px;height:26px;line-height:26px;padding:0">۲ روز قبل</div><div class="dash" style="left:966.0px;width:24px;top:41.8px"></div><div class="t1 red">سود انباشته</div><div class="dash" style="left:185.0px;width:67.0px;top:157.5px"></div><div class="cap g" style="left:17.0px;width:168.0px">۱۴۴۰۰۰ میلیارد تومان</div><div class="cap t" style="left:252.0px;width:167.0px">۱۰۵۰۰۰ میلیارد تومان</div><svg class="abs" style="left:213.0px;top:150.5px" width="14" height="14" viewBox="0 0 14 14"><polygon points="0,7 14,0 14,14" fill="#6b8a9c"/></svg><div class="pc" style="left:219.0px;top:128px">۳۷%</div><div class="cl" style="right:755.5px">سرمایه:</div><div class="ts" style="width:145px"><span class="sx" style="transform:scaleX(0.993)">۱۴۰۴/۱۲/۰۵ ۱۸:۲۲:۰۸</span></div><div class="panel"><div class="pn"><span class="sx" style="transform:scaleX(0.79)">فملی</span></div><div class="ps" style="top:76px"></div><div class="pp">۳۷%</div><div class="ps" style="top:140px"></div><div class="pr"><span class="n1">۱</span>۳,۶<span class="n9">۹</span><span class="n0">۰</span><small>ریال</small></div></div></div>
<div class="row" style="top:1333px;height:187px"><div class="col" style="left:0.0px;width:119.5px;background:linear-gradient(to bottom,rgba(217,79,75,.12) 0%,rgba(217,79,75,.055) 50%,rgba(217,79,75,0) 88%)"></div><div class="col" style="left:119.5px;width:120.2px;background:linear-gradient(to bottom,rgba(230,122,78,.12) 0%,rgba(230,122,78,.055) 50%,rgba(230,122,78,0) 88%)"></div><div class="col" style="left:239.7px;width:120.2px;background:linear-gradient(to bottom,rgba(242,165,90,.12) 0%,rgba(242,165,90,.055) 50%,rgba(242,165,90,0) 88%)"></div><div class="col" style="left:359.9px;width:120.2px;background:linear-gradient(to bottom,rgba(236,196,104,.12) 0%,rgba(236,196,104,.055) 50%,rgba(236,196,104,0) 88%)"></div><div class="col" style="left:480.1px;width:120.2px;background:linear-gradient(to bottom,rgba(200,198,100,.12) 0%,rgba(200,198,100,.055) 50%,rgba(200,198,100,0) 88%)"></div><div class="col" style="left:600.3px;width:120.2px;background:linear-gradient(to bottom,rgba(152,184,94,.12) 0%,rgba(152,184,94,.055) 50%,rgba(152,184,94,0) 88%)"></div><div class="col" style="left:720.5px;width:120.2px;background:linear-gradient(to bottom,rgba(98,168,96,.12) 0%,rgba(98,168,96,.055) 50%,rgba(98,168,96,0) 88%)"></div><div class="col" style="left:840.7px;width:120.2px;background:linear-gradient(to bottom,rgba(6,154,98,.12) 0%,rgba(6,154,98,.055) 50%,rgba(6,154,98,0) 88%)"></div><div class="col" style="left:960.9px;width:120.2px;background:linear-gradient(to bottom,rgba(8,126,110,.12) 0%,rgba(8,126,110,.055) 50%,rgba(8,126,110,0) 88%)"></div><div class="cb" style="left:119.0px;background:linear-gradient(to bottom,rgba(230,122,78,.28) 0%,rgba(230,122,78,.03) 90%)"></div><div class="cb" style="left:239.2px;background:linear-gradient(to bottom,rgba(242,165,90,.28) 0%,rgba(242,165,90,.03) 90%)"></div><div class="cb" style="left:359.4px;background:linear-gradient(to bottom,rgba(236,196,104,.28) 0%,rgba(236,196,104,.03) 90%)"></div><div class="cb" style="left:479.6px;background:linear-gradient(to bottom,rgba(200,198,100,.28) 0%,rgba(200,198,100,.03) 90%)"></div><div class="cb" style="left:599.8px;background:linear-gradient(to bottom,rgba(152,184,94,.28) 0%,rgba(152,184,94,.03) 90%)"></div><div class="cb" style="left:720.0px;background:linear-gradient(to bottom,rgba(98,168,96,.28) 0%,rgba(98,168,96,.03) 90%)"></div><div class="cb" style="left:840.2px;background:linear-gradient(to bottom,rgba(6,154,98,.28) 0%,rgba(6,154,98,.03) 90%)"></div><div class="cb" style="left:960.4px;background:linear-gradient(to bottom,rgba(8,126,110,.28) 0%,rgba(8,126,110,.03) 90%)"></div><div class="cb" style="left:1080.6px;background:linear-gradient(to bottom,rgba(8,126,110,.28) 0%,rgba(8,126,110,.03) 90%)"></div><div class="lg" style="left:59.4px;width:961.6px;top:79.5px"></div><div class="ring" style="left:900.8px;top:79.5px"></div><div class="in" style="left:900.8px;top:79.5px"></div><div class="ring" style="left:780.6px;top:79.5px"></div><div class="in" style="left:780.6px;top:79.5px"></div><div class="ring" style="left:660.4px;top:79.5px"></div><div class="in" style="left:660.4px;top:79.5px"></div><div class="ring" style="left:540.2px;top:79.5px"></div><div class="in" style="left:540.2px;top:79.5px"></div><div class="ring" style="left:420.0px;top:79.5px"></div><div class="in" style="left:420.0px;top:79.5px"></div><div class="ring" style="left:299.8px;top:79.5px"></div><div class="in" style="left:299.8px;top:79.5px"></div><div class="ring" style="left:179.6px;top:79.5px"></div><div class="in" style="left:179.6px;top:79.5px"></div><div class="ring" style="left:59.4px;top:79.5px"></div><div class="in" style="left:59.4px;top:79.5px"></div><div class="cur" style="left:1021.0px;top:79.5px"></div><div class="dot" style="left:1021.0px;top:79.5px;width:24px;height:24px;margin:-12px 0 0 -12px"></div><div class="db db1" style="left:1021.0px;width:69.6px">۰۴/۱۲/۰۵</div><div class="mg" style="left:897.0px;width:69.0px;top:28.8px;height:26px;line-height:26px;padding:0">۲ روز قبل</div><div class="dash" style="left:966.0px;width:24px;top:41.8px"></div><div class="t1 red">مطالبات حال شده سهامداران و آورده نقدی ،سود انباشته</div><div class="dash" style="left:179.0px;width:75.0px;top:157.5px"></div><div class="cap g" style="left:17.0px;width:162.0px">۶۸۰۰۰ میلیارد تومان</div><div class="cap t" style="left:254.0px;width:163.0px">۴۷۱۵۰ میلیارد تومان</div><svg class="abs" style="left:211.0px;top:150.5px" width="14" height="14" viewBox="0 0 14 14"><polygon points="0,7 14,0 14,14" fill="#6b8a9c"/></svg><div class="pc" style="left:217.0px;top:128px">۴۴%</div><div class="cl" style="right:757.5px">سرمایه:</div><div class="ts" style="width:147px"><span class="sx" style="transform:scaleX(1.000)">۱۴۰۴/۱۲/۰۵ ۱۶:۰۸:۵۸</span></div><div class="panel"><div class="pn"><span class="sx" style="transform:scaleX(0.93)">کچاد</span></div><div class="ps" style="top:76px"></div><div class="pp">۴۴%</div><div class="ps" style="top:140px"></div><div class="pr">۲,۴۷<span class="n9">۹</span><small>ریال</small></div></div></div>
<div class="row" style="top:1537px;height:187px"><div class="col" style="left:0.0px;width:119.5px;background:linear-gradient(to bottom,rgba(217,79,75,.12) 0%,rgba(217,79,75,.055) 50%,rgba(217,79,75,0) 88%)"></div><div class="col" style="left:119.5px;width:120.2px;background:linear-gradient(to bottom,rgba(230,122,78,.12) 0%,rgba(230,122,78,.055) 50%,rgba(230,122,78,0) 88%)"></div><div class="col" style="left:239.7px;width:120.2px;background:linear-gradient(to bottom,rgba(242,165,90,.12) 0%,rgba(242,165,90,.055) 50%,rgba(242,165,90,0) 88%)"></div><div class="col" style="left:359.9px;width:120.2px;background:linear-gradient(to bottom,rgba(236,196,104,.12) 0%,rgba(236,196,104,.055) 50%,rgba(236,196,104,0) 88%)"></div><div class="col" style="left:480.1px;width:120.2px;background:linear-gradient(to bottom,rgba(200,198,100,.12) 0%,rgba(200,198,100,.055) 50%,rgba(200,198,100,0) 88%)"></div><div class="col" style="left:600.3px;width:120.2px;background:linear-gradient(to bottom,rgba(152,184,94,.12) 0%,rgba(152,184,94,.055) 50%,rgba(152,184,94,0) 88%)"></div><div class="col" style="left:720.5px;width:120.2px;background:linear-gradient(to bottom,rgba(98,168,96,.12) 0%,rgba(98,168,96,.055) 50%,rgba(98,168,96,0) 88%)"></div><div class="col" style="left:840.7px;width:120.2px;background:linear-gradient(to bottom,rgba(6,154,98,.12) 0%,rgba(6,154,98,.055) 50%,rgba(6,154,98,0) 88%)"></div><div class="col" style="left:960.9px;width:120.2px;background:linear-gradient(to bottom,rgba(8,126,110,.12) 0%,rgba(8,126,110,.055) 50%,rgba(8,126,110,0) 88%)"></div><div class="cb" style="left:119.0px;background:linear-gradient(to bottom,rgba(230,122,78,.28) 0%,rgba(230,122,78,.03) 90%)"></div><div class="cb" style="left:239.2px;background:linear-gradient(to bottom,rgba(242,165,90,.28) 0%,rgba(242,165,90,.03) 90%)"></div><div class="cb" style="left:359.4px;background:linear-gradient(to bottom,rgba(236,196,104,.28) 0%,rgba(236,196,104,.03) 90%)"></div><div class="cb" style="left:479.6px;background:linear-gradient(to bottom,rgba(200,198,100,.28) 0%,rgba(200,198,100,.03) 90%)"></div><div class="cb" style="left:599.8px;background:linear-gradient(to bottom,rgba(152,184,94,.28) 0%,rgba(152,184,94,.03) 90%)"></div><div class="cb" style="left:720.0px;background:linear-gradient(to bottom,rgba(98,168,96,.28) 0%,rgba(98,168,96,.03) 90%)"></div><div class="cb" style="left:840.2px;background:linear-gradient(to bottom,rgba(6,154,98,.28) 0%,rgba(6,154,98,.03) 90%)"></div><div class="cb" style="left:960.4px;background:linear-gradient(to bottom,rgba(8,126,110,.28) 0%,rgba(8,126,110,.03) 90%)"></div><div class="cb" style="left:1080.6px;background:linear-gradient(to bottom,rgba(8,126,110,.28) 0%,rgba(8,126,110,.03) 90%)"></div><div class="lg" style="left:59.4px;width:961.6px;top:79.5px"></div><div class="ring" style="left:660.4px;top:79.5px"></div><div class="in" style="left:660.4px;top:79.5px"></div><div class="ring" style="left:540.2px;top:79.5px"></div><div class="in" style="left:540.2px;top:79.5px"></div><div class="ring" style="left:59.4px;top:79.5px"></div><div class="in" style="left:59.4px;top:79.5px"></div><div class="ring" style="left:1021.0px;top:79.5px"></div><div class="ring" style="left:900.8px;top:79.5px"></div><div class="cur" style="left:780.6px;top:79.5px"></div><div class="ln" style="left:780.6px;width:240.4px;top:79.5px"></div><div class="dot" style="left:1021.0px;top:79.5px"></div><div class="db db1" style="left:1021.0px;width:73.0px">۰۴/۰۷/۲۹</div><div class="dot" style="left:900.8px;top:79.5px"></div><div class="db db1" style="left:900.8px;width:69.6px">۰۴/۰۸/۱۲</div><div class="dot" style="left:780.6px;top:79.5px;width:24px;height:24px;margin:-12px 0 0 -12px"></div><div class="db db1" style="left:780.6px;width:69.6px">۰۴/۱۲/۰۵</div><div class="iv" style="left:960.9px">۱۲ روز</div><div class="iv" style="left:840.7px">۱۱۳ روز</div><div class="mg" style="left:656.0px;width:70.0px;top:28.8px;height:26px;line-height:26px;padding:0">۲ روز قبل</div><div class="dash" style="left:726.0px;width:24px;top:41.8px"></div><div class="t1 blue">۱۱۱% سود انباشته</div><div class="dash" style="left:154.0px;width:112.0px;top:157.5px"></div><div class="cap g" style="left:17.0px;width:137.0px">۲۱۱ میلیارد تومان</div><div class="cap t" style="left:266.0px;width:139.0px">۱۰۰ میلیارد تومان</div><svg class="abs" style="left:204.0px;top:150.5px" width="14" height="14" viewBox="0 0 14 14"><polygon points="0,7 14,0 14,14" fill="#6b8a9c"/></svg><div class="pc" style="left:210.0px;top:128px">۱۱۱%</div><div class="cl" style="right:769.5px">سرمایه:</div><div class="ts" style="width:141px"><span class="sx" style="transform:scaleX(0.963)">۱۴۰۴/۱۲/۰۵ ۱۴:۱۰:۳۰</span></div><div class="panel"><div class="pn"><span class="sx" style="transform:scaleX(0.81)">وسپاهان</span></div><div class="ps" style="top:76px"></div><div class="pp"><span class="n1">۱</span><span class="n1">۱</span><span class="n1">۱</span>%</div><div class="ps" style="top:140px"></div><div class="pr">۸۷<span class="n0">۰</span><small>ریال</small></div></div></div>
<div class="row" style="top:1740px;height:187px"><div class="col" style="left:0.0px;width:119.5px;background:linear-gradient(to bottom,rgba(217,79,75,.12) 0%,rgba(217,79,75,.055) 50%,rgba(217,79,75,0) 88%)"></div><div class="col" style="left:119.5px;width:120.2px;background:linear-gradient(to bottom,rgba(230,122,78,.12) 0%,rgba(230,122,78,.055) 50%,rgba(230,122,78,0) 88%)"></div><div class="col" style="left:239.7px;width:120.2px;background:linear-gradient(to bottom,rgba(242,165,90,.12) 0%,rgba(242,165,90,.055) 50%,rgba(242,165,90,0) 88%)"></div><div class="col" style="left:359.9px;width:120.2px;background:linear-gradient(to bottom,rgba(236,196,104,.12) 0%,rgba(236,196,104,.055) 50%,rgba(236,196,104,0) 88%)"></div><div class="col" style="left:480.1px;width:120.2px;background:linear-gradient(to bottom,rgba(200,198,100,.12) 0%,rgba(200,198,100,.055) 50%,rgba(200,198,100,0) 88%)"></div><div class="col" style="left:600.3px;width:120.2px;background:linear-gradient(to bottom,rgba(152,184,94,.12) 0%,rgba(152,184,94,.055) 50%,rgba(152,184,94,0) 88%)"></div><div class="col" style="left:720.5px;width:120.2px;background:linear-gradient(to bottom,rgba(98,168,96,.12) 0%,rgba(98,168,96,.055) 50%,rgba(98,168,96,0) 88%)"></div><div class="col" style="left:840.7px;width:120.2px;background:linear-gradient(to bottom,rgba(6,154,98,.12) 0%,rgba(6,154,98,.055) 50%,rgba(6,154,98,0) 88%)"></div><div class="col" style="left:960.9px;width:120.2px;background:linear-gradient(to bottom,rgba(8,126,110,.12) 0%,rgba(8,126,110,.055) 50%,rgba(8,126,110,0) 88%)"></div><div class="cb" style="left:119.0px;background:linear-gradient(to bottom,rgba(230,122,78,.28) 0%,rgba(230,122,78,.03) 90%)"></div><div class="cb" style="left:239.2px;background:linear-gradient(to bottom,rgba(242,165,90,.28) 0%,rgba(242,165,90,.03) 90%)"></div><div class="cb" style="left:359.4px;background:linear-gradient(to bottom,rgba(236,196,104,.28) 0%,rgba(236,196,104,.03) 90%)"></div><div class="cb" style="left:479.6px;background:linear-gradient(to bottom,rgba(200,198,100,.28) 0%,rgba(200,198,100,.03) 90%)"></div><div class="cb" style="left:599.8px;background:linear-gradient(to bottom,rgba(152,184,94,.28) 0%,rgba(152,184,94,.03) 90%)"></div><div class="cb" style="left:720.0px;background:linear-gradient(to bottom,rgba(98,168,96,.28) 0%,rgba(98,168,96,.03) 90%)"></div><div class="cb" style="left:840.2px;background:linear-gradient(to bottom,rgba(6,154,98,.28) 0%,rgba(6,154,98,.03) 90%)"></div><div class="cb" style="left:960.4px;background:linear-gradient(to bottom,rgba(8,126,110,.28) 0%,rgba(8,126,110,.03) 90%)"></div><div class="cb" style="left:1080.6px;background:linear-gradient(to bottom,rgba(8,126,110,.28) 0%,rgba(8,126,110,.03) 90%)"></div><div class="lg" style="left:59.4px;width:961.6px;top:79.5px"></div><div class="ring" style="left:780.6px;top:79.5px"></div><div class="in" style="left:780.6px;top:79.5px"></div><div class="ring" style="left:660.4px;top:79.5px"></div><div class="in" style="left:660.4px;top:79.5px"></div><div class="ring" style="left:540.2px;top:79.5px"></div><div class="in" style="left:540.2px;top:79.5px"></div><div class="ring" style="left:59.4px;top:79.5px"></div><div class="in" style="left:59.4px;top:79.5px"></div><div class="ring" style="left:1021.0px;top:79.5px"></div><div class="cur" style="left:900.8px;top:79.5px"></div><div class="ln" style="left:900.8px;width:120.2px;top:79.5px"></div><div class="dot" style="left:1021.0px;top:79.5px"></div><div class="db db1" style="left:1021.0px;width:66.3px">۰۴/۱۱/۲۹</div><div class="dot" style="left:900.8px;top:79.5px;width:24px;height:24px;margin:-12px 0 0 -12px"></div><div class="db db1" style="left:900.8px;width:69.6px">۰۴/۱۲/۰۵</div><div class="iv" style="left:960.9px">۵ روز</div><div class="mg" style="left:776.0px;width:70.0px;top:28.8px;height:26px;line-height:26px;padding:0">۲ روز قبل</div><div class="dash" style="left:846.0px;width:24px;top:41.8px"></div><div class="t1 red">سود انباشته</div><div class="dash" style="left:167.0px;width:94.0px;top:157.5px"></div><div class="cap g" style="left:17.0px;width:150.0px">۱۵۰۰ میلیارد تومان</div><div class="cap t" style="left:261.0px;width:149.0px">۱۲۶۰ میلیارد تومان</div><svg class="abs" style="left:208.0px;top:150.5px" width="14" height="14" viewBox="0 0 14 14"><polygon points="0,7 14,0 14,14" fill="#6b8a9c"/></svg><div class="pc" style="left:214.0px;top:128px">۱۹%</div><div class="cl" style="right:764.5px">سرمایه:</div><div class="ts" style="width:138px"><span class="sx" style="transform:scaleX(0.941)">۱۴۰۴/۱۲/۰۵ ۱۴:۰۱:۱۸</span></div><div class="panel"><div class="pn"><span class="sx" style="transform:scaleX(0.9)">حخزر</span></div><div class="ps" style="top:76px"></div><div class="pp"><span class="n1">۱</span><span class="n9">۹</span>%</div><div class="ps" style="top:140px"></div><div class="pr">۳,<span class="n0">۰</span>۴۸<small>ریال</small></div></div></div>
<div class="wm"><span><span style="font-size:.95em">@</span>CodalChart</span></div>
<div class="f1">@CodalChart</div><div class="fl"></div><div class="f2">کانال کدال چارت</div>
<div class="f3">پنجشنبه ۰۷ اسفند ۱۴۰۴ ساعت ۲۳:۵۴:۳۴</div>
</body></html>
